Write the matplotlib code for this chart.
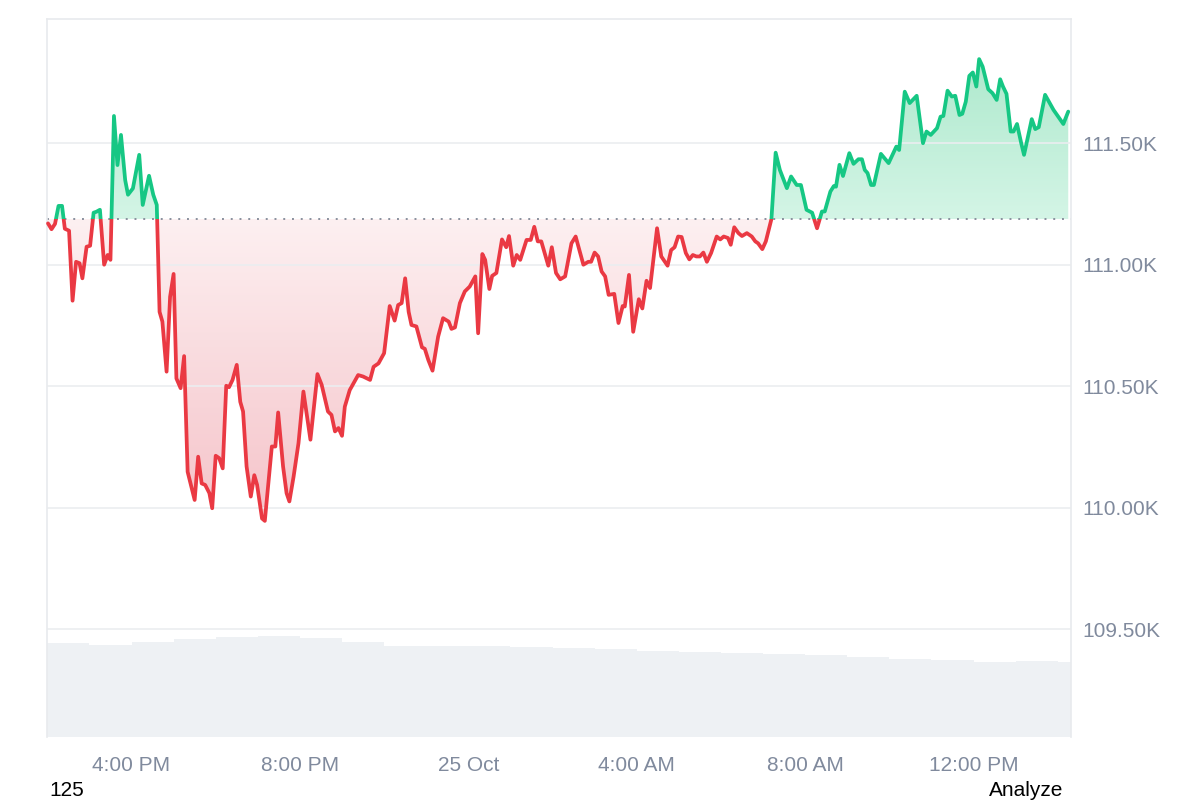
import numpy as np
import matplotlib
matplotlib.use('Agg')
import matplotlib.pyplot as plt
from matplotlib.path import Path
from matplotlib.patches import Rectangle
from matplotlib.colors import to_rgba

plt.rcParams['font.family'] = ['Liberation Sans', 'DejaVu Sans']

# ---- data: minutes after 24 Oct 14:00, price in USD ----
times = [
    1, 6, 11, 16, 21, 25, 31, 36, 41, 46,
    50, 56, 61, 66, 70, 75, 81, 86, 90, 95,
    100, 105, 111, 115, 122, 131, 136, 145, 151, 156,
    160, 164, 170, 175, 180, 184, 190, 195, 200, 210,
    215, 220, 225, 231, 235, 240, 245, 250, 255, 259,
    264, 270, 275, 279, 284, 290, 295, 299, 306, 310,
    320, 325, 329, 336, 341, 345, 351, 358, 365, 375,
    385, 391, 400, 405, 410, 415, 420, 424, 431, 443,
    450, 460, 465, 472, 480, 488, 495, 500, 505, 510,
    515, 519, 526, 534, 538, 543, 549, 557, 564, 572,
    576, 581, 588, 595, 602, 610, 614, 620, 624, 630,
    634, 640, 648, 654, 658, 664, 669, 674, 683, 689,
    694, 699, 704, 714, 719, 725, 731, 738, 747, 753,
    764, 771, 775, 780, 785, 790, 795, 800, 808, 814,
    820, 823, 829, 835, 843, 848, 854, 859, 869, 875,
    884, 889, 894, 899, 904, 910, 915, 920, 925, 930,
    935, 940, 946, 954, 959, 964, 970, 974, 979, 985,
    990, 997, 1004, 1009, 1013, 1019, 1024, 1032, 1038, 1044,
    1054, 1060, 1068, 1074, 1082, 1090, 1097, 1104, 1108, 1116,
    1121, 1124, 1129, 1134, 1143, 1149, 1156, 1161, 1165, 1169,
    1174, 1178, 1188, 1199, 1210, 1214, 1222, 1229, 1239, 1248,
    1253, 1259, 1268, 1273, 1277, 1283, 1289, 1294, 1300, 1304,
    1309, 1314, 1319, 1324, 1328, 1333, 1341, 1347, 1353, 1358,
    1362, 1367, 1373, 1377, 1382, 1388, 1392, 1403, 1408, 1413,
    1422, 1434, 1448, 1455,
]
prices = [
    111170, 111146, 111168, 111242, 111242, 111148, 111140, 110852, 111012, 111006,
    110944, 111074, 111078, 111214, 111218, 111226, 111000, 111040, 111020, 111612,
    111410, 111534, 111348, 111288, 111314, 111452, 111246, 111366, 111288, 111246,
    110806, 110766, 110560, 110868, 110962, 110532, 110492, 110624, 110148, 110032,
    110210, 110100, 110094, 110060, 109998, 110214, 110204, 110162, 110502, 110496,
    110526, 110588, 110436, 110396, 110170, 110046, 110134, 110094, 109956, 109946,
    110252, 110252, 110392, 110170, 110060, 110026, 110128, 110266, 110478, 110280,
    110550, 110506, 110396, 110382, 110314, 110328, 110296, 110416, 110484, 110546,
    110540, 110526, 110580, 110594, 110636, 110830, 110770, 110834, 110842, 110944,
    110806, 110752, 110746, 110660, 110654, 110608, 110564, 110704, 110780, 110766,
    110736, 110742, 110842, 110890, 110910, 110952, 110718, 111044, 111020, 110900,
    110954, 110966, 111104, 111072, 111118, 110996, 111040, 111020, 111102, 111102,
    111156, 111096, 111096, 110996, 111072, 110966, 110940, 110952, 111088, 111116,
    111000, 111012, 111012, 111050, 111034, 110972, 110952, 110876, 110880, 110760,
    110830, 110828, 110958, 110724, 110858, 110820, 110934, 110904, 111150, 111034,
    110996, 111060, 111072, 111116, 111114, 111048, 111022, 111040, 111034, 111034,
    111050, 111012, 111048, 111116, 111104, 111116, 111110, 111082, 111154, 111130,
    111118, 111130, 111116, 111096, 111088, 111064, 111096, 111188, 111461, 111390,
    111315, 111363, 111328, 111328, 111226, 111214, 111150, 111219, 111219, 111301,
    111324, 111321, 111411, 111365, 111459, 111415, 111434, 111434, 111390, 111377,
    111328, 111328, 111456, 111418, 111486, 111472, 111712, 111665, 111695, 111500,
    111548, 111534, 111562, 111609, 111612, 111716, 111692, 111695, 111616, 111621,
    111671, 111777, 111791, 111733, 111846, 111815, 111722, 111706, 111678, 111763,
    111733, 111703, 111548, 111548, 111579, 111500, 111452, 111599, 111558, 111566,
    111699, 111637, 111579, 111630,
]
base_price = 111188  # open price (dotted reference line)

# hourly volume (relative units), hours after 14:00
vol_hours = list(range(25))
volume = [94, 92, 95, 97.4, 100, 100.7, 98.4, 94.4, 90.7, 90.7, 90.7, 89.7, 88.7,
          87.7, 86.2, 84.7, 83.7, 82.7, 81.7, 80, 77.4, 76.7, 75, 75.7, 75]

x_tick_pos = [120, 360, 600, 840, 1080, 1320]
x_tick_labels = ['4:00 PM', '8:00 PM', '25 Oct', '4:00 AM', '8:00 AM', '12:00 PM']
y_ticks = [109500, 110000, 110500, 111000, 111500]
y_tick_labels = ['109.50K', '110.00K', '110.50K', '111.00K', '111.50K']

# ---- layout ----
W, H = 1200, 800
fig = plt.figure(figsize=(12, 8), dpi=100)
rect = [47.3 / W, 1 - 736.7 / H, (1070.7 - 47.3) / W, (736.7 - 19) / H]
axv = fig.add_axes(rect)
ax = fig.add_axes(rect)
ax.patch.set_visible(False)

XMAX = 1458.5
YMIN, YMAX = 109058, 112011

t = np.array(times, float)
p = np.array(prices, float)

# volume bars
axv.bar(np.array(vol_hours) * 60, volume, width=60, align='edge',
        color='#eef1f4', linewidth=0)
axv.set_xlim(0, XMAX)
axv.set_ylim(0, 717.7)
axv.axis('off')


def grad_fill(where, c_near, c_far, y_far):
    coll = ax.fill_between(t, p, base_price, where=where, interpolate=True,
                           facecolor='none', edgecolor='none')
    path = Path.make_compound_path(*coll.get_paths())
    n = 256
    c0 = np.array(to_rgba(c_near))
    c1 = np.array(to_rgba(c_far))
    frac = np.linspace(0, 1, n)[:, None]
    img = (c0 * (1 - frac) + c1 * frac)[:, None, :]
    lo, hi = sorted([base_price, y_far])
    if y_far < base_price:
        img = img[::-1]
    im = ax.imshow(img, extent=[0, XMAX, lo, hi], origin='lower',
                   aspect='auto', zorder=0.5, interpolation='bilinear')
    im.set_clip_path(path, ax.transData)


grad_fill(p >= base_price, '#d4f5e6', '#aee9cd', p.max())
grad_fill(p <= base_price, '#fdf0f1', '#f5c3c9', p.min())

ax.axhline(base_price, color='#8a919e', lw=1.4, ls=(0, (1, 3.5)), zorder=2)

lg, = ax.plot(t, p, color='#16c784', lw=2.7, solid_joinstyle='round',
              solid_capstyle='round', zorder=3)
lg.set_clip_path(Rectangle((-10, base_price), XMAX + 20, YMAX - base_price + 100,
                           transform=ax.transData))
lr, = ax.plot(t, p, color='#ea3943', lw=2.7, solid_joinstyle='round',
              solid_capstyle='round', zorder=3)
lr.set_clip_path(Rectangle((-10, YMIN - 100), XMAX + 20, base_price - YMIN + 100,
                           transform=ax.transData))

ax.set_xlim(0, XMAX)
ax.set_ylim(YMIN, YMAX)
ax.set_xticks(x_tick_pos)
ax.set_xticklabels(x_tick_labels)
ax.set_yticks(y_ticks)
ax.set_yticklabels(y_tick_labels)
ax.yaxis.tick_right()
ax.grid(axis='y', color='#ebedf0', lw=1.2)
ax.tick_params(axis='y', length=0, pad=8.6, labelsize=15, labelcolor='#808a9d')
ax.tick_params(axis='x', length=0, pad=14, labelsize=15, labelcolor='#808a9d')
for s in ['left', 'top', 'right']:
    ax.spines[s].set_color('#e8eaed')
    ax.spines[s].set_linewidth(1.2)
ax.spines['bottom'].set_visible(False)

fig.text(49 / W, 4.5 / H, '125', fontsize=15, color='black', ha='left', va='baseline')
fig.text(1063 / W, 4.5 / H, 'Analyze', fontsize=15, color='black', ha='right', va='baseline')

fig.savefig('out.png', dpi=100, facecolor='white')
